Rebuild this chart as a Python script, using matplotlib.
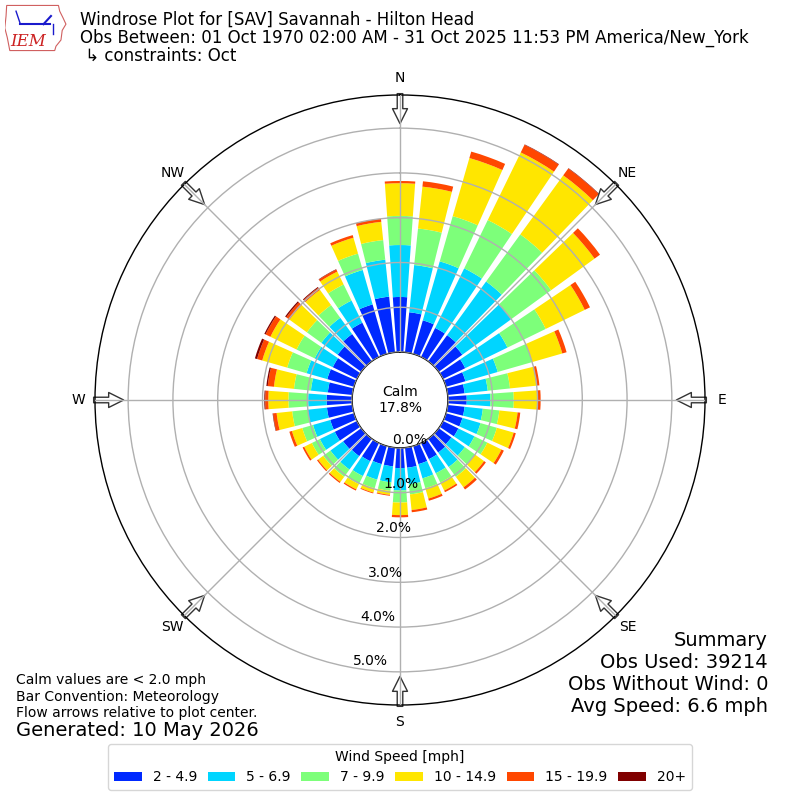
import numpy as np
import matplotlib
matplotlib.use("Agg")
import matplotlib.pyplot as plt
from matplotlib.patches import Polygon, Patch

# ---------------- data ----------------
directions = list(range(0, 360, 10))
speed_labels = ["2 - 4.9", "5 - 6.9", "7 - 9.9", "10 - 14.9", "15 - 19.9", "20+"]

pct_2_5 = [1.23, 0.90, 0.78, 0.72, 0.72, 0.65, 0.55, 0.45, 0.38, 0.42,
           0.38, 0.38, 0.38, 0.35, 0.38, 0.40, 0.42, 0.45, 0.45, 0.42,
           0.42, 0.45, 0.48, 0.50, 0.55, 0.55, 0.57, 0.57, 0.55, 0.62,
           0.60, 0.65, 0.75, 0.85, 1.15, 1.25]
pct_5_7 = [1.16, 1.06, 1.37, 1.48, 1.48, 1.35, 1.05, 0.75, 0.52, 0.53,
           0.41, 0.42, 0.40, 0.37, 0.40, 0.35, 0.33, 0.37, 0.50, 0.36,
           0.36, 0.37, 0.37, 0.35, 0.37, 0.40, 0.43, 0.41, 0.38, 0.48,
           0.45, 0.45, 0.45, 0.55, 0.80, 0.83]
pct_7_10 = [0.65, 0.82, 1.05, 1.20, 1.30, 1.10, 0.95, 0.80, 0.50, 0.52,
            0.37, 0.38, 0.32, 0.28, 0.27, 0.23, 0.23, 0.23, 0.27, 0.19,
            0.20, 0.20, 0.20, 0.20, 0.20, 0.25, 0.35, 0.44, 0.38, 0.45,
            0.45, 0.40, 0.35, 0.40, 0.38, 0.44]
pct_10_15 = [0.73, 0.94, 1.35, 1.68, 1.63, 1.20, 0.97, 0.70, 0.59, 0.52,
             0.41, 0.39, 0.35, 0.25, 0.29, 0.20, 0.24, 0.35, 0.28, 0.09,
             0.10, 0.13, 0.14, 0.14, 0.19, 0.24, 0.35, 0.45, 0.45, 0.58,
             0.65, 0.48, 0.42, 0.32, 0.37, 0.41]
pct_15_20 = [0.05, 0.12, 0.15, 0.19, 0.19, 0.15, 0.13, 0.10, 0.07, 0.08,
             0.06, 0.05, 0.06, 0.05, 0.06, 0.04, 0.05, 0.05, 0.05, 0.02,
             0.02, 0.03, 0.03, 0.03, 0.04, 0.06, 0.08, 0.07, 0.14, 0.12,
             0.12, 0.09, 0.06, 0.05, 0.06, 0.07]
pct_20p = [0.00, 0.00, 0.00, 0.01, 0.01, 0.00, 0.00, 0.00, 0.00, 0.00,
           0.00, 0.00, 0.00, 0.00, 0.00, 0.00, 0.00, 0.00, 0.00, 0.00,
           0.00, 0.00, 0.00, 0.00, 0.00, 0.00, 0.01, 0.02, 0.03, 0.05,
           0.03, 0.03, 0.02, 0.01, 0.00, 0.00]
calm_pct = 17.8
r_ticks = [0, 1, 2, 3, 4, 5]
compass_labels = ["N", "NE", "E", "SE", "S", "SW", "W", "NW"]
compass_angles = [0, 45, 90, 135, 180, 225, 270, 315]

title_lines = ["Windrose Plot for [SAV] Savannah - Hilton Head",
               "Obs Between: 01 Oct 1970 02:00 AM - 31 Oct 2025 11:53 PM America/New_York",
               " \u21b3 constraints: Oct"]
notes = ["Calm values are < 2.0 mph", "Bar Convention: Meteorology",
         "Flow arrows relative to plot center."]
generated = "Generated: 10 May 2026"
summary = ["Summary", "Obs Used: 39214", "Obs Without Wind: 0", "Avg Speed: 6.6 mph"]

# ---------------- figure ----------------
fig = plt.figure(figsize=(8, 8), dpi=100)
ax = fig.add_axes([0.11875, 0.11875, 0.7625, 0.7625], projection="polar")
ax.set_theta_zero_location("N")
ax.set_theta_direction(-1)

colors = plt.cm.jet(np.linspace(0, 1, 7))[1:]
theta = np.deg2rad(directions)
width = np.deg2rad(8)
bottom = np.zeros(len(directions))
series = [pct_2_5, pct_5_7, pct_7_10, pct_10_15, pct_15_20, pct_20p]
for vals, c in zip(series, colors):
    vals = np.asarray(vals)
    ax.bar(theta, vals, width=width, bottom=bottom, color=c, linewidth=0, zorder=1)
    bottom = bottom + vals

ax.set_rorigin(-1.07)
ax.set_rlim(0, 5.74)
ax.set_rticks(r_ticks)
ax.set_yticklabels([f"{v:.1f}%" for v in r_ticks], fontsize=10)
ax.set_rlabel_position(190)
ax.set_thetagrids(compass_angles, compass_labels, fontsize=10)
ax.tick_params(axis="x", pad=1.5)
ax.grid(True, color="#b0b0b0", lw=1)
ax.set_axisbelow(False)
for sp in ax.spines.values():
    sp.set_color("black")
    sp.set_linewidth(1)

# flow arrows
for ang in compass_angles:
    ax.annotate("", xy=(np.deg2rad(ang), 5.10), xytext=(np.deg2rad(ang), 5.77),
                arrowprops=dict(arrowstyle="simple,head_length=1.08,head_width=1.08,tail_width=0.4",
                                fc="white", ec="#333333", lw=1, shrinkA=0, shrinkB=0),
                annotation_clip=False, zorder=1)

ax.text(0.5, 0.5, f"Calm\n{calm_pct:.1f}%", transform=ax.transAxes,
        ha="center", va="center", fontsize=10, zorder=5)

# titles
for t, y in zip(title_lines, [20, 38, 56]):
    fig.text(0.1, 1 - y / 800, t, ha="left", va="center", fontsize=12)

# notes
for t, y in zip(notes, [680, 697, 713]):
    fig.text(0.02, 1 - y / 800, t, ha="left", va="center", fontsize=10)
fig.text(0.02, 1 - 730 / 800, generated, ha="left", va="center", fontsize=14)
for t, y in zip(summary, [640, 663, 685, 706]):
    fig.text(0.96, 1 - y / 800, t, ha="right", va="center", fontsize=14)

# legend
handles = [Patch(facecolor=c, label=l) for c, l in zip(colors, speed_labels)]
fig.legend(handles=handles, loc="lower center", bbox_to_anchor=(0.5, 0.0125), ncol=6,
           title="Wind Speed [mph]", fontsize=10, title_fontsize=10, borderaxespad=0,
           columnspacing=0.75)

# logo
lax = fig.add_axes([0.006, 0.935, 0.078, 0.06])
lax.set_xlim(0, 1)
lax.set_ylim(0, 1)
lax.axis("off")
outline = [(0.03, 0.97), (0.86, 0.97), (0.88, 0.85), (0.93, 0.72), (0.98, 0.58),
           (0.92, 0.45), (0.9, 0.25), (0.82, 0.12), (0.8, 0.03), (0.08, 0.03),
           (0.04, 0.3), (0.0, 0.5), (0.02, 0.75)]
lax.add_patch(Polygon(outline, closed=True, fill=False, ec="#d06060", lw=0.8))
lax.plot([0.25, 0.72], [0.58, 0.58], color="#1a1acc", lw=1.5)
lax.plot([0.25, 0.18], [0.58, 0.85], color="#1a1acc", lw=1)
lax.plot([0.62, 0.74], [0.58, 0.75], color="#1a1acc", lw=1.5)
lax.plot([0.78, 0.78], [0.58, 0.38], color="#1a1acc", lw=1)
lax.text(0.38, 0.22, "IEM", color="#cc2222", fontsize=12, family="DejaVu Serif",
         style="italic", ha="center", va="center")

fig.savefig("out.png", dpi=100)
